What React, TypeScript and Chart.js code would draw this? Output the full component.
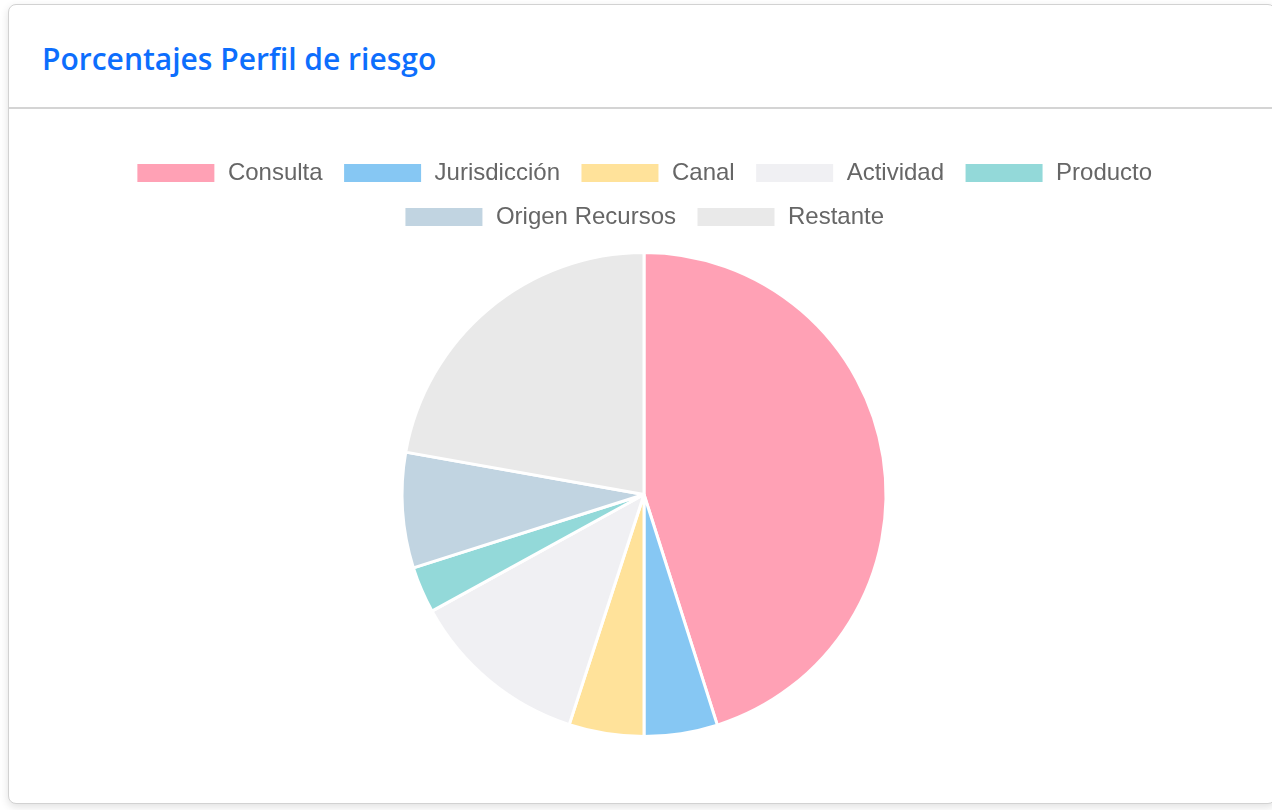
import React, { useEffect, useRef } from "react";
import { Chart, registerables } from "chart.js";

Chart.register(...registerables);

const categories = ["Consulta", "Jurisdicción", "Canal", "Actividad", "Producto", "Origen Recursos", "Restante"];
const values = [45.1, 4.9, 5.0, 12.0, 3.1, 7.7, 22.2];
const colors = [
  "rgba(255, 99, 132, 0.6)",
  "rgba(54, 162, 235, 0.6)",
  "rgba(255, 206, 86, 0.6)",
  "#F0F0F3",
  "rgba(75, 192, 192, 0.6)",
  "#C1D4E1",
  "#E9E9E9",
];
const title = "Porcentajes Perfil de riesgo";

export default function App() {
  const ref = useRef<HTMLCanvasElement | null>(null);
  useEffect(() => {
    if (!ref.current) return;
    const chart = new Chart(ref.current, {
      type: "pie",
      data: {
        labels: categories,
        datasets: [
          {
            data: values,
            backgroundColor: colors,
            borderColor: "#ffffff",
            borderWidth: 3,
            radius: 242,
          },
        ],
      },
      options: {
        animation: false,
        responsive: false,
        maintainAspectRatio: false,
        plugins: {
          legend: {
            position: "top",
            labels: {
              font: { family: "'Liberation Sans', Arial, sans-serif", size: 24 },
              color: "#666666",
              boxWidth: 80,
              boxHeight: 21,
              padding: 20,
            },
          },
          tooltip: { enabled: false },
        },
      },
    });
    return () => chart.destroy();
  }, []);

  return (
    <div
      style={{
        position: "absolute",
        left: 8,
        top: 4,
        width: 1268,
        height: 800,
        background: "#ffffff",
        border: "1px solid #d2d2d2",
        borderRadius: 8,
        boxShadow: "0 3px 8px rgba(0,0,0,0.12)",
        boxSizing: "border-box",
        overflow: "hidden",
      }}
    >
      <div
        style={{
          position: "absolute",
          left: 0,
          top: 0,
          right: 0,
          height: 104,
          borderBottom: "2px solid #d4d4d4",
          boxSizing: "border-box",
        }}
      >
        <div
          style={{
            position: "absolute",
            left: 33,
            top: 39,
            fontFamily: "'Open Sans', sans-serif",
            fontWeight: 600,
            fontSize: 30,
            lineHeight: "30px",
            color: "#0d6efd",
            whiteSpace: "nowrap",
          }}
        >
          {title}
        </div>
      </div>
      <canvas
        ref={ref}
        width={1232}
        height={609}
        style={{ position: "absolute", left: 19, top: 136, width: 1232, height: 609 }}
      />
    </div>
  );
}
